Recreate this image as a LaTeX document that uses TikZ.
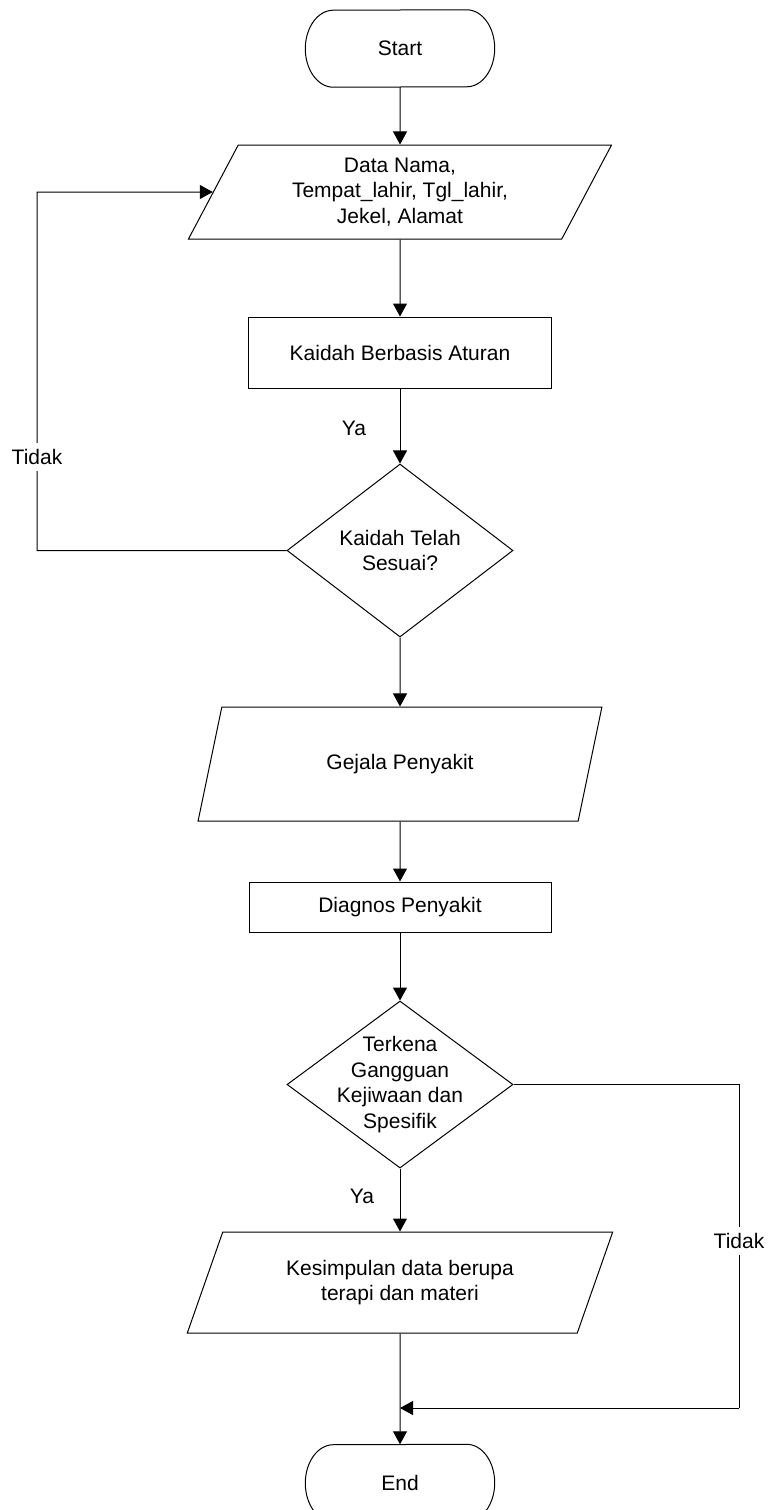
\documentclass[tikz,border=0pt]{standalone}
\usepackage{fontspec}
\setmainfont{Liberation Sans}
\usetikzlibrary{shapes.geometric,arrows.meta}
\tikzset{
  txt/.style={font=\fontsize{21}{25.5}\selectfont},
  base/.style={txt, draw=black, line width=1pt, inner sep=0pt, align=center},
  terminal/.style={txt, rectangle, inner sep=0pt, minimum width=189pt, minimum height=77pt},
  iobox/.style={base, trapezium, trapezium stretches=true,
    trapezium left angle=#1, trapezium right angle=180-#1},
  process/.style={base, rectangle},
  decision/.style={base, diamond, minimum width=226pt},
  lbl/.style={txt, inner xsep=2pt, inner ysep=6pt},
  flow/.style={line width=1pt, -{Triangle[length=13pt,width=14pt]}},
  plain/.style={line width=1pt}
}
% outline of a start/end terminal: straight top and bottom, half-ellipse ends
\newcommand\termoutline[1]{%
  \draw[line width=1pt] ([xshift=-28pt]#1.north east)
    arc[start angle=90, end angle=-90, x radius=28pt, y radius=38.5pt]
    -- ([xshift=28pt]#1.south west)
    arc[start angle=270, end angle=90, x radius=28pt, y radius=38.5pt]
    -- cycle;}
\begin{document}
\begin{tikzpicture}[x=1pt, y=-1pt]
  \useasboundingbox (0,0) rectangle (769,1510);

  % main column
  \node[terminal] (start) at (400,48.5) {Start};
  \termoutline{start}
  \node[iobox=64, minimum width=425pt, minimum height=94pt] (data) at (400,192)
    {Data Nama,\\Tempat\_lahir, Tgl\_lahir,\\Jekel, Alamat};
  \node[process, minimum width=303pt, minimum height=71pt] (rules) at (400,352.5)
    {Kaidah Berbasis Aturan};
  \node[decision, minimum height=173pt] (check) at (400,550.5) {};
  \node[txt, align=center] (checktext) at (check.center) {Kaidah Telah\\Sesuai?};
  \node[iobox=63.4, minimum width=404pt, minimum height=114pt] (gejala) at (400,764)
    {Gejala Penyakit};
  \node[process, minimum width=302pt, minimum height=50pt] (diag) at (400,907)
    {Diagnos Penyakit};
  \node[decision, minimum height=167pt] (kena) at (400,1084.5) {};
  \node[txt, align=center] (kenatext) at (kena.center)
    {Terkena\\Gangguan\\Kejiwaan dan\\Spesifik};
  \node[iobox=63.2, minimum width=427pt, minimum height=101pt] (hasil) at (400,1282.5)
    {Kesimpulan data berupa\\terapi dan materi};
  \node[terminal] (end) at (400,1483) {End};
  \termoutline{end}

  % junction points of the return lines
  \coordinate (lcorner) at (37,192);
  \coordinate (rcorner) at (739,1408);
  \coordinate (merge) at (400,1408);

  % straight flow
  \draw[flow] (start) -- (data);
  \draw[flow] (data) -- (rules);
  \draw[flow] (rules) -- (check);
  \draw[flow] (check) -- (gejala);
  \draw[flow] (gejala) -- (diag);
  \draw[flow] (diag) -- (kena);
  \draw[flow] (kena) -- (hasil);
  \draw[flow] (hasil) -- (end);

  % "no" branches
  \draw[flow] (check.west) -| (lcorner) -- (data.west);
  \draw[plain] (kena.east) -| (rcorner);
  \draw[flow] (rcorner) -- (merge);

  % branch labels
  \node[lbl] (ya1) at (354,428) {Ya};
  \node[lbl] (ya2) at (362,1196) {Ya};
  \node[lbl, fill=white] (tidak1) at (37,457) {Tidak};
  \node[lbl, fill=white] (tidak2) at (739,1241) {Tidak};
\end{tikzpicture}
\end{document}
